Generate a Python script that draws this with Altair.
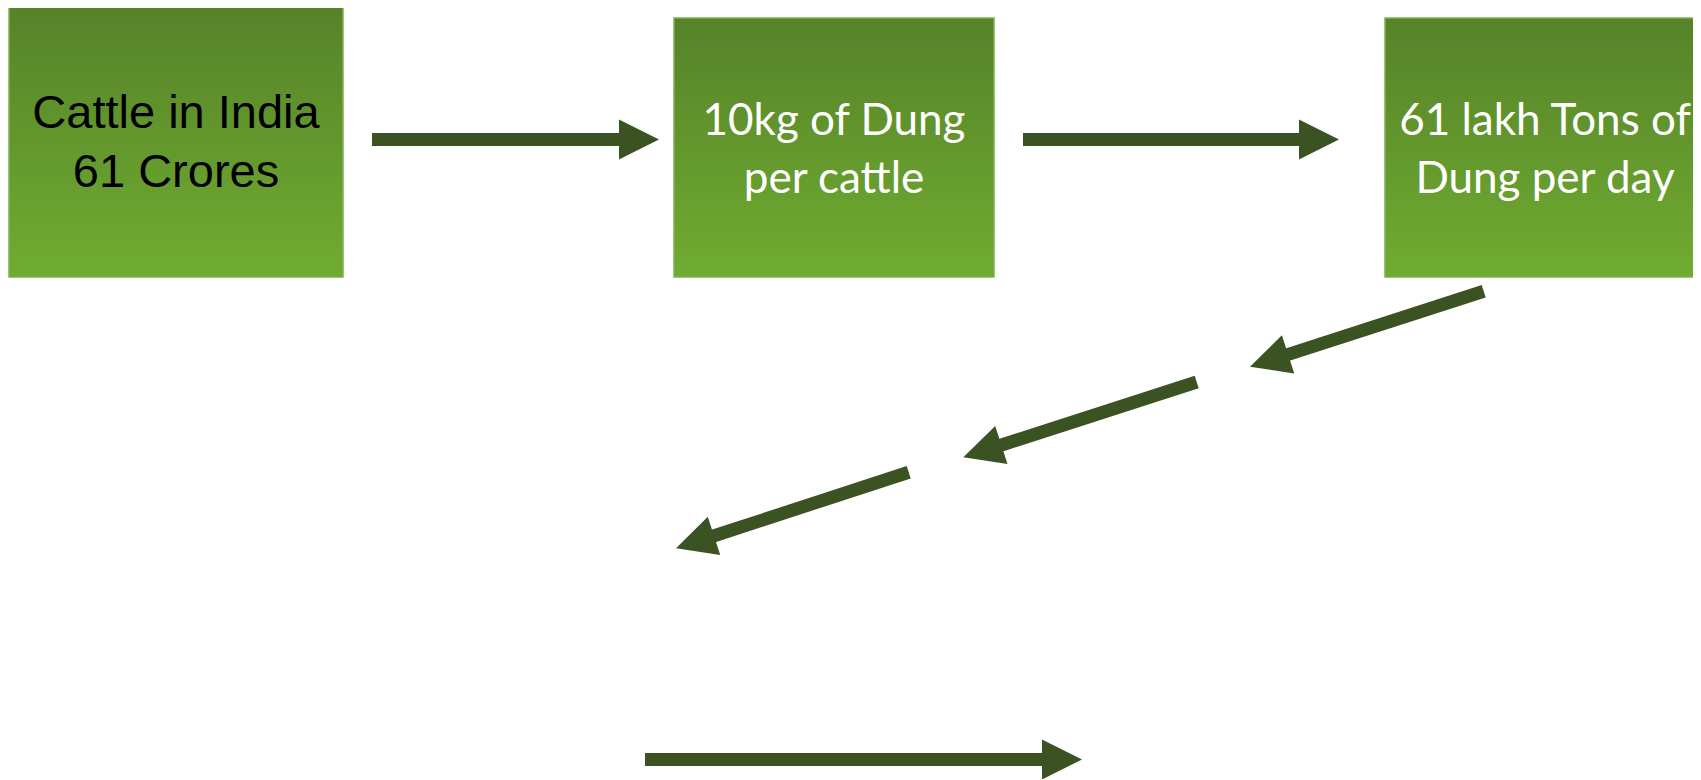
import altair as alt
import pandas as pd
import numpy as np

# ---- data (page-pixel frame of the 1701x780 picture) ----
box_label = ["Cattle in India\n61 Crores", "10kg of Dung\nper cattle", "61 lakh Tons of\nDung per day"]
box_x0 = [9, 674, 1385]
box_x1 = [343, 994, 1705]
box_y0 = [3, 18, 18]
box_y1 = [277, 277, 277]
text_x = [176, 834, 1545]
text_y = [128, 135, 135]          # first-line baseline
text_color = ["black", "white", "white"]

arrow_x_tail = [372, 1023, 1483.7, 1196.7, 908.7, 645]
arrow_y_tail = [139.5, 139.5, 291.2, 382, 472.2, 759.5]
arrow_x_tip = [659, 1339, 1250, 963.3, 676, 1082]
arrow_y_tip = [139.5, 139.5, 366.7, 457.3, 548.3, 759.5]

ARROW_COL = "#3B5323"
HEAD_LEN = 40

W, H = 1685, 771
OFF = 8

boxes = pd.DataFrame({"label": box_label, "x0": box_x0, "x1": box_x1,
                      "y0": box_y0, "y1": box_y1, "tx": text_x, "ty": text_y,
                      "tc": text_color})

ar = pd.DataFrame({"xt": arrow_x_tail, "yt": arrow_y_tail,
                   "xp": arrow_x_tip, "yp": arrow_y_tip})
dx = ar["xp"] - ar["xt"]
dy = ar["yp"] - ar["yt"]
ln = np.hypot(dx, dy)
ux, uy = dx / ln, dy / ln
ar["xs"] = ar["xp"] - ux * (HEAD_LEN - 3)
ar["ys"] = ar["yp"] - uy * (HEAD_LEN - 3)
ar["xh"] = ar["xp"] - ux * HEAD_LEN / 2
ar["yh"] = ar["yp"] - uy * HEAD_LEN / 2
ar["ang"] = np.degrees(np.arctan2(dy, dx)) % 360

xs = alt.Scale(domain=[OFF, OFF + W], nice=False, zero=False)
ys = alt.Scale(domain=[OFF, OFF + H], nice=False, zero=False, reverse=True)

grad = alt.LinearGradient(
    gradient="linear",
    stops=[alt.GradientStop(color="#568229", offset=0),
           alt.GradientStop(color="#70AC31", offset=1)],
    x1=0, x2=0, y1=0, y2=1)

base_b = alt.Chart(boxes)
rects = base_b.mark_rect(fill=grad, stroke="#7DB050", strokeWidth=1.5).encode(
    x=alt.X("x0:Q", scale=xs, axis=None),
    x2="x1:Q",
    y=alt.Y("y0:Q", scale=ys, axis=None),
    y2="y1:Q",
)

t1 = alt.Chart(boxes.iloc[[0]]).mark_text(
    align="center", baseline="alphabetic", lineBreak="\n", lineHeight=59,
    font="Liberation Sans", fontSize=47).encode(
    x=alt.X("tx:Q", scale=xs, axis=None),
    y=alt.Y("ty:Q", scale=ys, axis=None),
    text="label:N",
    color=alt.Color("tc:N", scale=None),
)
t2 = alt.Chart(boxes.iloc[[1, 2]]).mark_text(
    align="center", baseline="alphabetic", lineBreak="\n", lineHeight=58,
    font="Lato", fontSize=44).encode(
    x=alt.X("tx:Q", scale=xs, axis=None),
    y=alt.Y("ty:Q", scale=ys, axis=None),
    text="label:N",
    color=alt.Color("tc:N", scale=None),
)

shafts = alt.Chart(ar).mark_rule(strokeWidth=13, strokeCap="butt", color=ARROW_COL).encode(
    x=alt.X("xt:Q", scale=xs, axis=None),
    y=alt.Y("yt:Q", scale=ys, axis=None),
    x2="xs:Q",
    y2="ys:Q",
)
heads = alt.Chart(ar).mark_point(shape="M1,0L-1,-1L-1,1Z", filled=True, size=HEAD_LEN ** 2,
                                 opacity=1, color=ARROW_COL, strokeWidth=0).encode(
    x=alt.X("xh:Q", scale=xs, axis=None),
    y=alt.Y("yh:Q", scale=ys, axis=None),
    angle=alt.Angle("ang:Q", scale=None),
)

chart = alt.layer(rects, t1, t2, shafts, heads).properties(
    width=W, height=H, padding=0,
    autosize=alt.AutoSizeParams(type="none"),
    background="white",
).configure_view(stroke=None)

chart.save("out.html", embed_options={"renderer": "svg", "actions": False})
